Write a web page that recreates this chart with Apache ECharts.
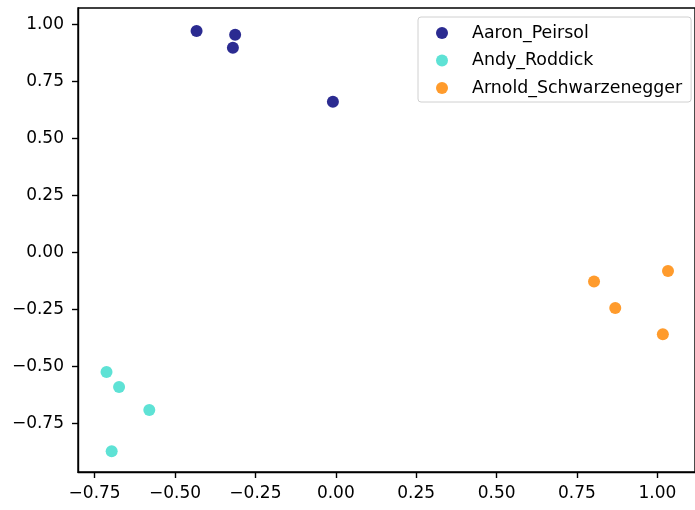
<!DOCTYPE html>
<html lang="en">
<head>
    <meta charset="UTF-8" />
    <title>Scatter</title>
    <script src="https://cdn.jsdelivr.net/npm/echarts@6/dist/echarts.min.js"></script>
    <style>
        html, body { margin: 0; padding: 0; background: #fff; }
    </style>
</head>
<body>
    <div id="main" style="width: 695px; height: 510px"></div>
    <script>
        // 数据
        var names = ["Aaron_Peirsol", "Andy_Roddick", "Arnold_Schwarzenegger"];
        var colors = ["#2b2b91", "#5ee2d5", "#ff9b2c"];

        var aaronPeirsol = [[-0.433, 0.972], [-0.313, 0.956], [-0.320, 0.899], [-0.009, 0.662]];
        var andyRoddick = [[-0.713, -0.525], [-0.674, -0.590], [-0.580, -0.691], [-0.697, -0.873]];
        var arnoldSchwarzenegger = [[0.803, -0.127], [0.869, -0.244], [1.033, -0.081], [1.017, -0.359]];

        var xTicks = [-0.75, -0.5, -0.25, 0, 0.25, 0.5, 0.75, 1.0];
        var yTicks = [-0.75, -0.5, -0.25, 0, 0.25, 0.5, 0.75, 1.0];

        var groups = [aaronPeirsol, andyRoddick, arnoldSchwarzenegger];

        function fmt(v) {
            return (v < 0 ? "\u2212" : "") + Math.abs(v).toFixed(2);
        }

        var font = "DejaVu Sans";

        var mCharts = echarts.init(document.getElementById("main"));

        var axisCommon = {
            type: "value",
            scale: true,
            splitLine: { show: false },
            axisLine: { show: true, onZero: false, lineStyle: { color: "#000", width: 1.4 } },
            axisTick: { show: true, length: 6, lineStyle: { color: "#000", width: 1.4 } },
        };

        var option = {
            animation: false,
            backgroundColor: "#fff",
            grid: {
                left: 78,
                top: 8,
                right: -3,
                bottom: 38,
                show: true,
                borderColor: "#000",
                borderWidth: 1.4,
            },
            xAxis: Object.assign({}, axisCommon, {
                min: -0.8017,
                max: 1.117,
                axisTick: Object.assign({}, axisCommon.axisTick, { customValues: xTicks }),
                axisLabel: {
                    customValues: xTicks,
                    formatter: fmt,
                    margin: 13,
                    color: "#000",
                    fontSize: 17,
                    fontFamily: font,
                },
            }),
            yAxis: Object.assign({}, axisCommon, {
                min: -0.9636,
                max: 1.073,
                axisTick: Object.assign({}, axisCommon.axisTick, { customValues: yTicks }),
                axisLabel: {
                    customValues: yTicks,
                    formatter: fmt,
                    margin: 14,
                    color: "#000",
                    fontSize: 17,
                    fontFamily: font,
                },
            }),
            legend: {
                orient: "vertical",
                left: 418,
                top: 17,
                padding: [6, 9, 4, 18],
                itemWidth: 12,
                itemHeight: 12,
                itemGap: 7.5,
                icon: "circle",
                backgroundColor: "rgba(255,255,255,0.8)",
                borderColor: "#d0d0d0",
                borderWidth: 1,
                borderRadius: 3,
                textStyle: {
                    fontSize: 17.4,
                    fontFamily: font,
                    color: "#000",
                    lineHeight: 20,
                    padding: [0, 0, 0, 19],
                },
                data: names,
            },
            series: names.map(function (n, i) {
                return {
                    name: n,
                    type: "scatter",
                    symbol: "circle",
                    symbolSize: 12,
                    itemStyle: {
                        color: colors[i],
                        opacity: 1,
                    },
                    data: groups[i],
                };
            }),
        };

        mCharts.setOption(option);
    </script>
</body>
</html>
